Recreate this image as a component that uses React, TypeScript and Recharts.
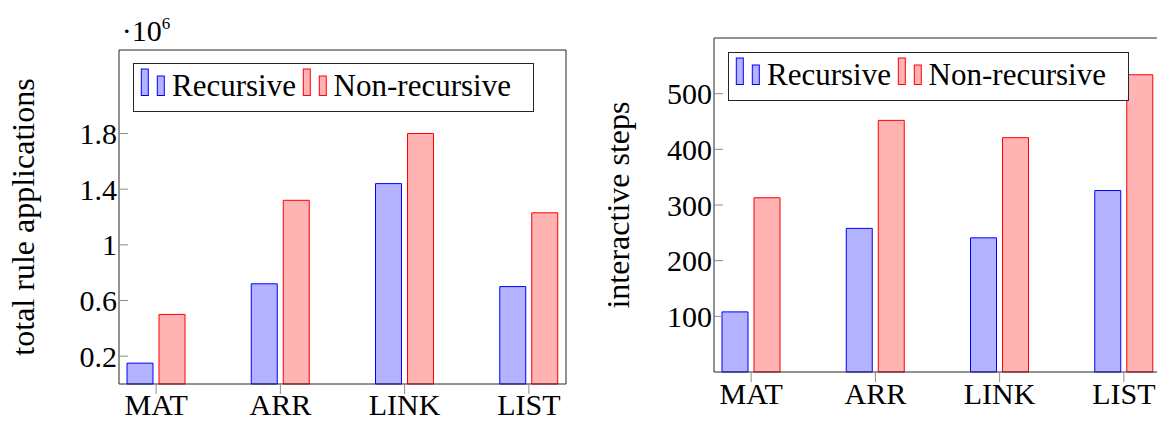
import { Bar, BarChart, Legend, XAxis, YAxis } from 'recharts';

const categories = ['MAT', 'ARR', 'LINK', 'LIST'];
const seriesNames = ['Recursive', 'Non-recursive'];
// total rule applications
const ruleRecursive = [150000, 720000, 1440000, 700000];
const ruleNonRecursive = [500000, 1320000, 1800000, 1230000];
const ruleTicks = [200000, 600000, 1000000, 1400000, 1800000];
// interactive steps
const stepsRecursive = [108, 258, 241, 326];
const stepsNonRecursive = [313, 452, 421, 534];
const stepTicks = [100, 200, 300, 400, 500];

const FONT = '"Liberation Serif", serif';
const FRAME = '#262626';
const TICK = '#8c8c8c';
const colors = [
  { fill: '#b3b3ff', stroke: '#0000ff' },
  { fill: '#ffb3b3', stroke: '#ff0000' },
];

const ruleData = categories.map((name, i) => ({ name, rec: ruleRecursive[i], non: ruleNonRecursive[i] }));
const stepData = categories.map((name, i) => ({ name, rec: stepsRecursive[i], non: stepsNonRecursive[i] }));

function BarLegend() {
  // two little bars per entry, like the pgfplots ybar legend
  const groups = [8.3, 170.3];
  const textX = [39, 200.6];
  return (
    <svg width={402} height={50} style={{ display: 'block' }}>
      <rect x={0.5} y={0.5} width={400} height={48} fill="#fff" stroke={FRAME} />
      {seriesNames.map((s, i) => (
        <g key={s}>
          <rect x={groups[i]} y={6} width={7} height={26.5} fill={colors[i].fill} stroke={colors[i].stroke} />
          <rect x={groups[i] + 16} y={13} width={7} height={19.5} fill={colors[i].fill} stroke={colors[i].stroke} />
          <text x={textX[i]} y={33.4} fontSize={31} fontFamily={FONT} fill="#000">
            {s}
          </text>
        </g>
      ))}
    </svg>
  );
}

type PanelProps = {
  data: { name: string; rec: number; non: number }[];
  width: number;
  margin: { top: number; right: number; bottom: number; left: number };
  domain: [number, number];
  ticks: number[];
  fmt: (v: number) => string;
  label: string;
  legendPos: { left: number; top: number };
  xTickMargin: number;
};

function Panel({ data, width, margin, domain, ticks, fmt, label, legendPos, xTickMargin }: PanelProps) {
  const tickFont = { fill: '#000', fontSize: 30, fontFamily: FONT };
  return (
    <BarChart width={width} height={421} data={data} margin={margin} barSize={26} barGap={6}>
      <XAxis
        xAxisId="b"
        dataKey="name"
        padding={{ left: -25, right: -25 }}
        axisLine={{ stroke: FRAME }}
        tickLine={{ stroke: TICK }}
        tickSize={10}
        tickMargin={xTickMargin}
        height={37}
        interval={0}
        tick={tickFont}
      />
      <XAxis
        xAxisId="t"
        orientation="top"
        dataKey="name"
        padding={{ left: -25, right: -25 }}
        axisLine={{ stroke: FRAME }}
        tickLine={{ stroke: TICK }}
        tickSize={11}
        height={12}
        interval={0}
        tick={false}
      />
      <YAxis
        yAxisId="l"
        type="number"
        domain={domain}
        ticks={ticks}
        interval={0}
        tickFormatter={fmt}
        axisLine={{ stroke: FRAME }}
        tickLine={{ stroke: TICK }}
        tickSize={-9}
        tickMargin={11}
        width={60}
        tick={tickFont}
        label={{
          value: label,
          angle: -90,
          position: 'insideLeft',
          offset: -36,
          style: { textAnchor: 'middle', fontSize: 32, fontFamily: FONT, fill: '#000' },
        }}
      />
      <YAxis
        yAxisId="r"
        orientation="right"
        type="number"
        domain={domain}
        ticks={ticks}
        interval={0}
        axisLine={{ stroke: FRAME }}
        tickLine={{ stroke: TICK }}
        tickSize={-9}
        width={10}
        tick={false}
      />
      <Legend
        layout="horizontal"
        verticalAlign="middle"
        align="center"
        wrapperStyle={{ left: legendPos.left, top: legendPos.top, width: 402, height: 50 }}
        content={() => <BarLegend />}
      />
      <Bar
        xAxisId="b"
        yAxisId="l"
        dataKey="rec"
        name={seriesNames[0]}
        fill={colors[0].fill}
        stroke={colors[0].stroke}
        isAnimationActive={false}
      />
      <Bar
        xAxisId="b"
        yAxisId="l"
        dataKey="non"
        name={seriesNames[1]}
        fill={colors[1].fill}
        stroke={colors[1].stroke}
        isAnimationActive={false}
      />
    </BarChart>
  );
}

export default function App() {
  return (
    <div
      style={{
        position: 'absolute',
        left: 0,
        top: 0,
        width: 1157,
        height: 421,
        overflow: 'hidden',
        background: '#fff',
        fontFamily: FONT,
      }}
    >
      <div style={{ position: 'absolute', left: 0, top: 0 }}>
        <Panel
          data={ruleData}
          width={580}
          margin={{ top: 38, right: 4, bottom: 0, left: 59 }}
          domain={[0, 2400000]}
          ticks={ruleTicks}
          fmt={(v) => String(v / 1e6)}
          label="total rule applications"
          legendPos={{ left: 132.7, top: 63.3 }}
          xTickMargin={0}
        />
      </div>
      <svg width={200} height={50} style={{ position: 'absolute', left: 0, top: 0 }}>
        <text x={121.7} y={41} fontSize={30} fontFamily={FONT} fill="#000">
          ·10
          <tspan fontSize={17} dy={-12}>
            6
          </tspan>
        </text>
      </svg>
      <div style={{ position: 'absolute', left: 580, top: 0 }}>
        <Panel
          data={stepData}
          width={600}
          margin={{ top: 26, right: 9, bottom: 12, left: 74 }}
          domain={[0, 600]}
          ticks={stepTicks}
          fmt={(v) => String(v)}
          label="interactive steps"
          legendPos={{ left: 148.3, top: 51.7 }}
          xTickMargin={1}
        />
      </div>
    </div>
  );
}
